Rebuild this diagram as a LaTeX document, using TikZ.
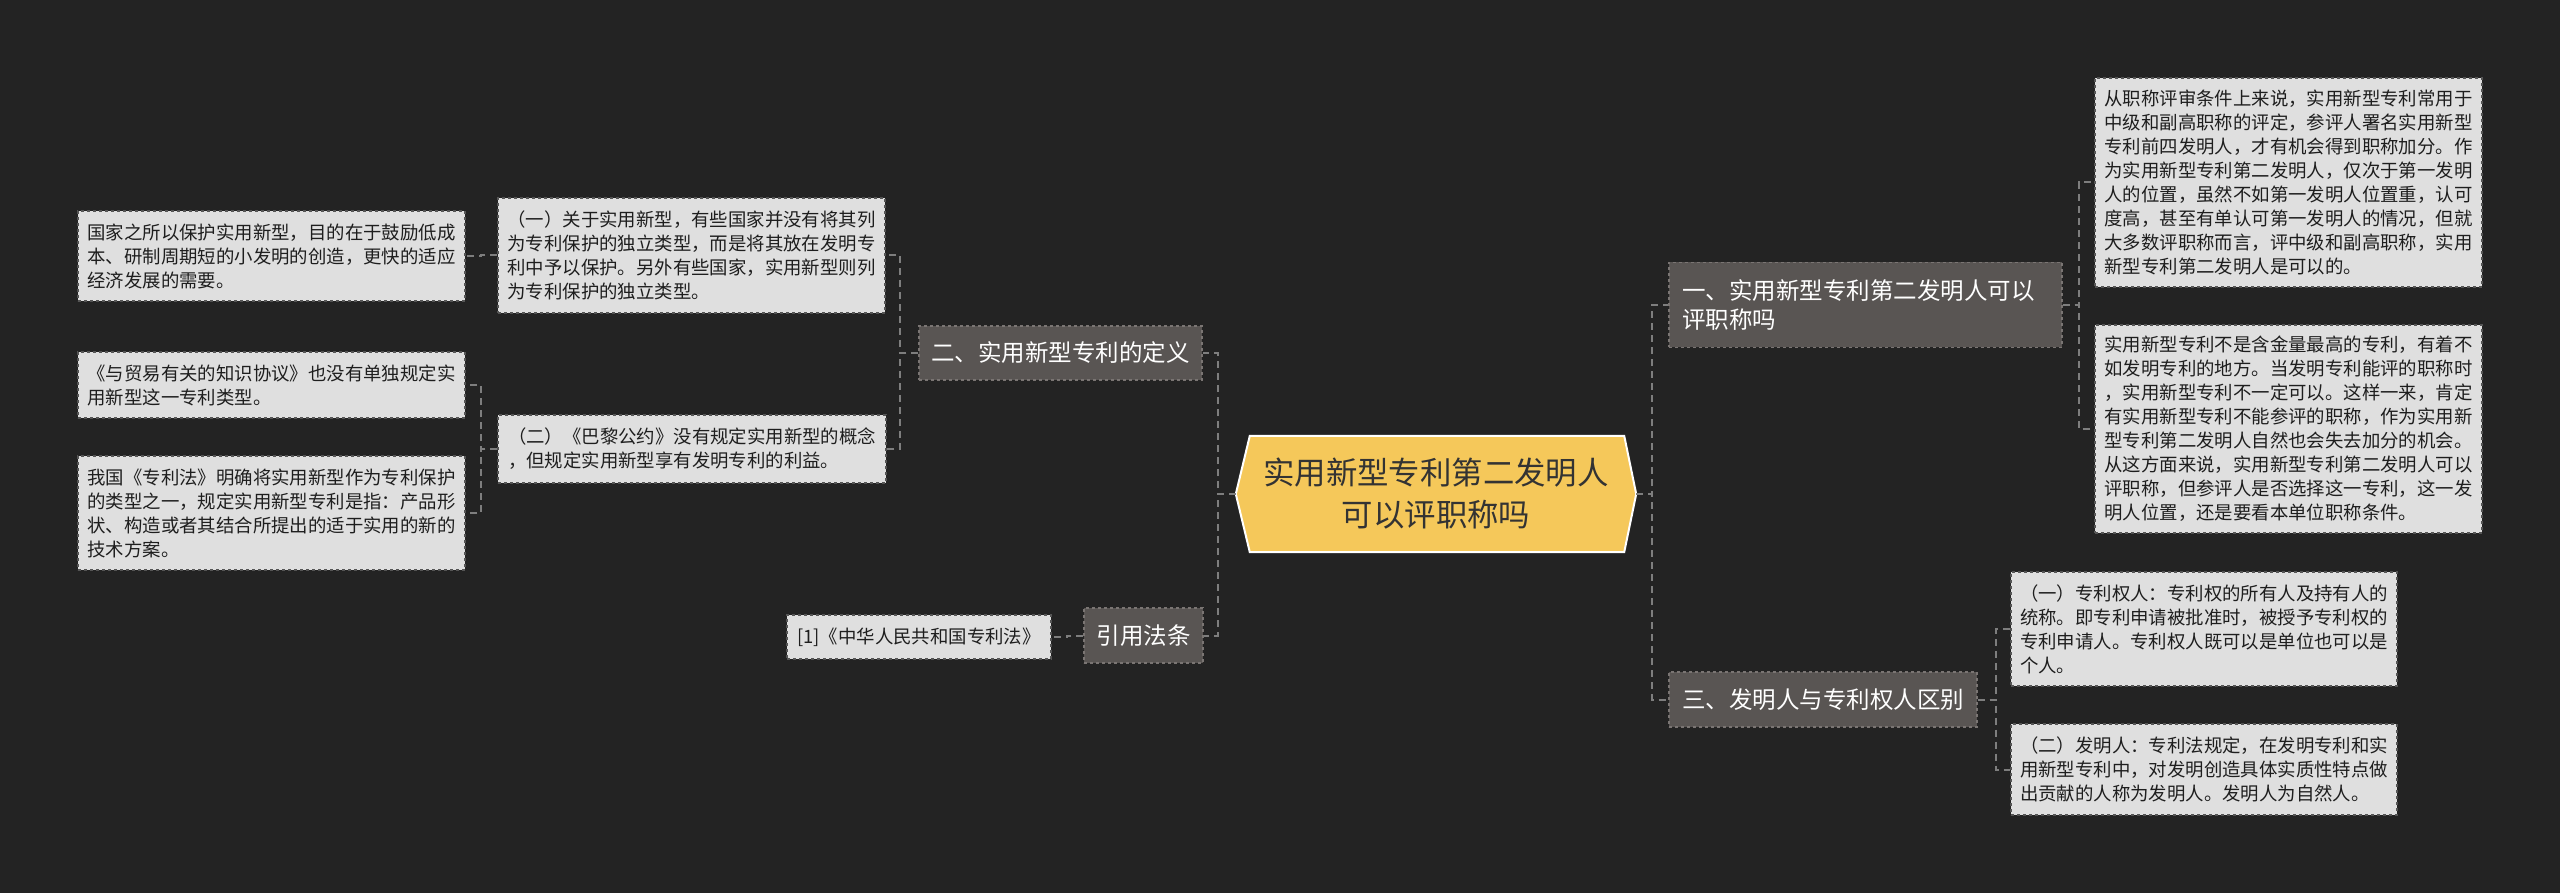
\documentclass[tikz,border=0pt]{standalone}
\usepackage{fontspec}
\newfontfamily\cjk{Noto Sans CJK SC}
\definecolor{bgcol}{HTML}{232323}
\definecolor{leaffill}{HTML}{DFDFDF}
\definecolor{leafborder}{HTML}{555555}
\definecolor{leaftext}{HTML}{1E1E1E}
\definecolor{brfill}{HTML}{595553}
\definecolor{brborder}{HTML}{7A7573}
\definecolor{conncol}{HTML}{7E7E7E}
\definecolor{rootfill}{HTML}{F5C85A}
\definecolor{roottext}{HTML}{333333}
\pgfdeclarelayer{bg}
\pgfsetlayers{bg,main}
\tikzset{
  leaf/.style={draw=leafborder, dashed, line width=1.2pt, fill=leaffill, text=leaftext,
    font=\cjk\fontsize{18.4pt}{24pt}\selectfont, align=left, inner sep=0pt},
  branch/.style={draw=brborder, dashed, line width=1.2pt, fill=brfill, text=white,
    font=\cjk\fontsize{23.5pt}{28.3pt}\selectfont, align=left, inner sep=0pt},
  rootnode/.style={font=\cjk\fontsize{31.4pt}{42pt}\selectfont, text=roottext, align=center,
    inner sep=0pt, minimum width=400pt, minimum height=116pt},
  conn/.style={draw=conncol, line width=2pt, dash pattern=on 7pt off 5pt},
}
\begin{document}
\begin{tikzpicture}[x=1pt,y=-1pt]
\useasboundingbox (0,0) rectangle (2560,893);
\begin{pgfonlayer}{bg}
\fill[bgcol] (0,0) rectangle (2560,893);
\end{pgfonlayer}

% root
\node[rootnode] (root) at (1436,494) {实用新型专利第二发明人\\可以评职称吗};
\begin{pgfonlayer}{bg}
\filldraw[fill=rootfill, draw=white, line width=2pt]
  (root.west) -- ([xshift=14pt]root.north west) -- ([xshift=-12pt]root.north east)
  -- (root.east) -- ([xshift=-12pt]root.south east) -- ([xshift=14pt]root.south west) -- cycle;
\end{pgfonlayer}

% left branches
\node[branch, minimum width=283pt, minimum height=54pt] (b1) at (1060.5,353) {二、实用新型专利的定义};
\node[branch, minimum width=119pt, minimum height=55pt] (b2) at (1143.5,635.5) {引用法条};

\node[leaf, minimum width=387pt, minimum height=115pt] (L1) at (691.5,255.5)
  {（一）关于实用新型，有些国家并没有将其列\\为专利保护的独立类型，而是将其放在发明专\\利中予以保护。另外有些国家，实用新型则列\\为专利保护的独立类型。};
\node[leaf, minimum width=388pt, minimum height=68pt] (L2) at (692,449)
  {（二）《巴黎公约》没有规定实用新型的概念\\，但规定实用新型享有发明专利的利益。};

\node[leaf, minimum width=387pt, minimum height=90pt] (FL1) at (271.5,256)
  {国家之所以保护实用新型，目的在于鼓励低成\\本、研制周期短的小发明的创造，更快的适应\\经济发展的需要。};
\node[leaf, minimum width=387pt, minimum height=66pt] (FL2) at (271.5,385)
  {《与贸易有关的知识协议》也没有单独规定实\\用新型这一专利类型。};
\node[leaf, minimum width=387pt, minimum height=114pt] (FL3) at (271.5,513)
  {我国《专利法》明确将实用新型作为专利保护\\的类型之一，规定实用新型专利是指：产品形\\状、构造或者其结合所提出的适于实用的新的\\技术方案。};

\node[leaf, minimum width=264pt, minimum height=44pt] (R1) at (919,637) {[1]《中华人民共和国专利法》};

% right branches
\node[branch, text width=367pt, inner xsep=13pt, minimum height=85pt] (RB1) at (1865.5,305)
  {一、实用新型专利第二发明人可以\\评职称吗};
\node[branch, minimum width=308pt, minimum height=55pt] (RB3) at (1823,699.5) {三、发明人与专利权人区别};

\node[leaf, minimum width=387pt, minimum height=209pt] (RA) at (2288.5,182.5)
  {从职称评审条件上来说，实用新型专利常用于\\中级和副高职称的评定，参评人署名实用新型\\专利前四发明人，才有机会得到职称加分。作\\为实用新型专利第二发明人，仅次于第一发明\\人的位置，虽然不如第一发明人位置重，认可\\度高，甚至有单认可第一发明人的情况，但就\\大多数评职称而言，评中级和副高职称，实用\\新型专利第二发明人是可以的。};
\node[leaf, minimum width=387pt, minimum height=208pt] (RBl) at (2288.5,429)
  {实用新型专利不是含金量最高的专利，有着不\\如发明专利的地方。当发明专利能评的职称时\\，实用新型专利不一定可以。这样一来，肯定\\有实用新型专利不能参评的职称，作为实用新\\型专利第二发明人自然也会失去加分的机会。\\从这方面来说，实用新型专利第二发明人可以\\评职称，但参评人是否选择这一专利，这一发\\明人位置，还是要看本单位职称条件。};
\node[leaf, minimum width=386pt, minimum height=114pt] (RC) at (2204,629)
  {（一）专利权人：专利权的所有人及持有人的\\统称。即专利申请被批准时，被授予专利权的\\专利申请人。专利权人既可以是单位也可以是\\个人。};
\node[leaf, minimum width=386pt, minimum height=91pt] (RD) at (2204,769.5)
  {（二）发明人：专利法规定，在发明专利和实\\用新型专利中，对发明创造具体实质性特点做\\出贡献的人称为发明人。发明人为自然人。};

% connectors
\draw[conn] (root.west) -- ++(-18,0) |- (b1.east);
\draw[conn] (root.west) -- ++(-18,0) |- (b2.east);
\draw[conn] (b1.west) -- ++(-18,0) |- (L1.east);
\draw[conn] (b1.west) -- ++(-18,0) |- (L2.east);
\draw[conn] (L1.west) -- ++(-16,0) |- (FL1.east);
\draw[conn] (L2.west) -- ++(-16,0) |- (FL2.east);
\draw[conn] (L2.west) -- ++(-16,0) |- (FL3.east);
\draw[conn] (b2.west) -- ++(-16,0) |- (R1.east);
\draw[conn] (root.east) -- ++(16,0) |- (RB1.west);
\draw[conn] (root.east) -- ++(16,0) |- (RB3.west);
\draw[conn] (RB1.east) -- ++(16,0) |- (RA.west);
\draw[conn] (RB1.east) -- ++(16,0) |- (RBl.west);
\draw[conn] (RB3.east) -- ++(18,0) |- (RC.west);
\draw[conn] (RB3.east) -- ++(18,0) |- (RD.west);
\end{tikzpicture}
\end{document}
